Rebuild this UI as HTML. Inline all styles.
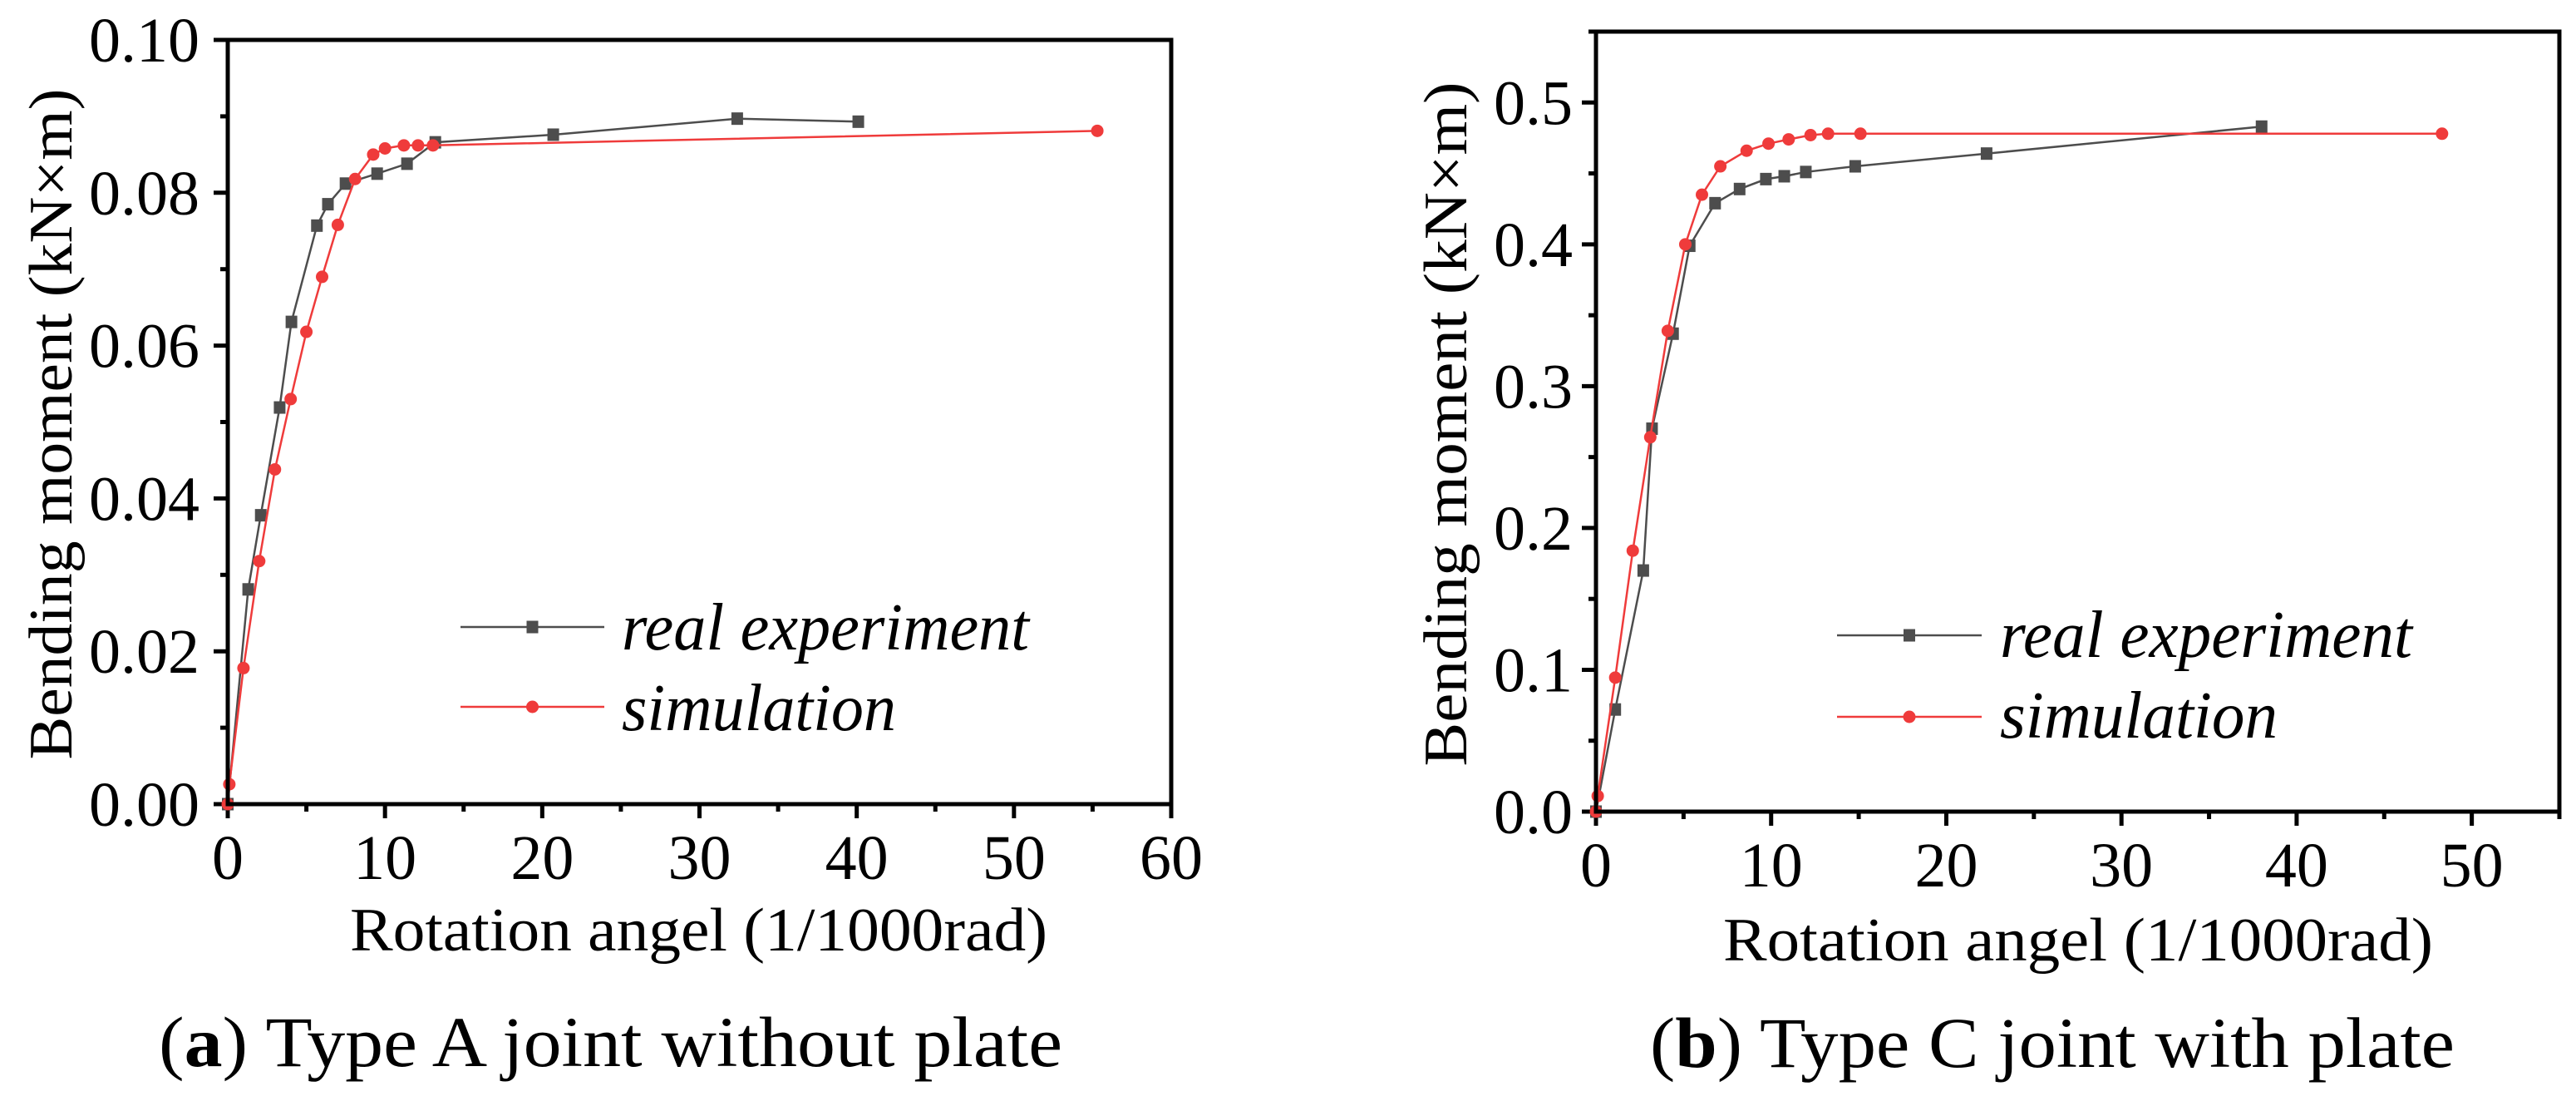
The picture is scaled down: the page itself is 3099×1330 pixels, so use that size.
<!DOCTYPE html>
<html><head><meta charset="utf-8">
<style>
html,body{margin:0;padding:0;background:#fff;}
svg{display:block;font-family:"Liberation Serif",serif;}
</style></head>
<body>
<svg id="fig" width="3099" height="1330" viewBox="0 0 3099 1330" xmlns="http://www.w3.org/2000/svg">
<g id="panelA"></g>
<g id="panelB"></g>
</svg>
<script>
// Panel A data
const aRealX = [0, 1.3, 2.1, 3.3, 4.05, 5.67, 6.37, 7.49, 9.5, 11.4, 13.2, 20.7, 32.4, 40.1];
const aRealY = [0, 0.0281, 0.0378, 0.0519, 0.0631, 0.0757, 0.0785, 0.0812, 0.0825, 0.0838, 0.0866, 0.0876, 0.0897, 0.0893];
const aSimX = [0, 0.1, 1.0, 2.0, 3.0, 4.0, 5.0, 6.0, 7.0, 8.1, 9.25, 10.0, 11.2, 12.1, 13.05, 55.3];
const aSimY = [0, 0.0026, 0.0178, 0.0318, 0.0438, 0.0530, 0.0618, 0.0690, 0.0758, 0.0818, 0.0850, 0.0858, 0.0862, 0.0862, 0.0862, 0.0881];
const aXTicks = ["0", "10", "20", "30", "40", "50", "60"];
const aYTicks = ["0.00", "0.02", "0.04", "0.06", "0.08", "0.10"];
// Panel B data
const bRealX = [0, 1.1, 2.7, 3.2, 4.4, 5.35, 6.8, 8.2, 9.7, 10.75, 11.98, 14.8, 22.3, 38.0];
const bRealY = [0, 0.072, 0.170, 0.270, 0.337, 0.399, 0.429, 0.439, 0.446, 0.448, 0.451, 0.455, 0.464, 0.483];
const bSimX = [0, 0.1, 1.1, 2.1, 3.1, 4.1, 5.1, 6.05, 7.1, 8.6, 9.85, 11.0, 12.25, 13.25, 15.1, 48.3];
const bSimY = [0, 0.011, 0.0945, 0.184, 0.264, 0.339, 0.400, 0.435, 0.455, 0.466, 0.471, 0.474, 0.477, 0.478, 0.478, 0.478];
const bXTicks = ["0", "10", "20", "30", "40", "50"];
const bYTicks = ["0.0", "0.1", "0.2", "0.3", "0.4", "0.5"];

const NS = "http://www.w3.org/2000/svg";
function mk(parent, tag, attrs, text) {
  const e = document.createElementNS(NS, tag);
  for (const k in attrs) e.setAttribute(k, attrs[k]);
  if (text !== undefined) e.textContent = text;
  parent.appendChild(e);
  return e;
}
const RED = "#ef3b3b", GRAY = "#4d4d4d";

function drawPanel(g, cfg) {
  const {L, R, T, B, xmax, ymax, xStep, yStep} = cfg;
  const sx = v => L + (v / xmax) * (R - L);
  const sy = v => B - (v / ymax) * (B - T);
  for (let i = 0; i < cfg.xTicks.length; i++) {
    const v = parseFloat(cfg.xTicks[i]);
    const x = sx(v);
    const t = mk(g, "line", {x1: x, x2: x, y1: B, y2: B + 17, stroke: "#000", "stroke-width": 5});
    
    
    const lb = mk(g, "text", {x: x, y: cfg.xLabBase, "font-size": 76, "text-anchor": "middle"}, cfg.xTicks[i]);
    
    
    const mv = v + xStep / 2;
    if (mv < xmax + 0.01) {
      const m = mk(g, "line", {x1: sx(mv), x2: sx(mv), y1: B, y2: B + 9, stroke: "#000", "stroke-width": 5});
      
      
    }
  }
  for (let i = 0; i < cfg.yTicks.length; i++) {
    const v = parseFloat(cfg.yTicks[i]);
    const y = sy(v);
    const t = mk(g, "line", {x1: L - 17, x2: L, y1: y, y2: y, stroke: "#000", "stroke-width": 5});
    
    
    const lb = mk(g, "text", {x: cfg.yLabRight, y: y + 26, "font-size": 76, "text-anchor": "end"}, cfg.yTicks[i]);
    
    
    const mv = v + yStep / 2;
    if (mv < ymax + 1e-9) {
      const m = mk(g, "line", {x1: L - 9, x2: L, y1: sy(mv), y2: sy(mv), stroke: "#000", "stroke-width": 5});
      
      
    }
  }
  function series(xs, ys, color, shape, name) {
    const pts = xs.map((x, i) => sx(x).toFixed(1) + "," + sy(ys[i]).toFixed(1)).join(" ");
    const pl = mk(g, "polyline", {points: pts, fill: "none", stroke: color, "stroke-width": 2.5});
    
    
    xs.forEach((x, i) => {
      let m;
      if (shape === "sq") m = mk(g, "rect", {x: sx(x) - 7, y: sy(ys[i]) - 7.5, width: 14, height: 15, fill: color});
      else m = mk(g, "circle", {cx: sx(x), cy: sy(ys[i]), r: 7.5, fill: color});
      
      
    });
  }
  series(cfg.realX, cfg.realY, GRAY, "sq", "real-experiment");
  series(cfg.simX, cfg.simY, RED, "ci", "simulation");
  const fr = mk(g, "rect", {x: L, y: T, width: R - L, height: B - T, fill: "none", stroke: "#000", "stroke-width": 5});
  
  
  const lg = cfg.leg;
  [[lg.y1, GRAY, "sq", "real experiment", lg.t1, lg.w1], [lg.y2, RED, "ci", "simulation", lg.t2, lg.w2]].forEach(([y, c, s, txt, tb, w]) => {
    const ln = mk(g, "line", {x1: lg.x1, x2: lg.x2, y1: y, y2: y, stroke: c, "stroke-width": 2.5});
    
    
    const mx = (lg.x1 + lg.x2) / 2;
    const mm = s === "sq" ? mk(g, "rect", {x: mx - 7, y: y - 7.5, width: 14, height: 15, fill: c}) : mk(g, "circle", {cx: mx, cy: y, r: 7.5, fill: c});
    
    
    const t = mk(g, "text", {x: lg.tx, y: tb, "font-size": 80, "font-style": "italic", textLength: w, lengthAdjust: "spacingAndGlyphs"}, txt);
    
    
  });
  const xt = mk(g, "text", {x: cfg.xt.x, y: cfg.xt.y, "font-size": 74, textLength: cfg.xt.w, lengthAdjust: "spacingAndGlyphs"}, "Rotation angel (1/1000rad)");
  
  
  const yt = mk(g, "text", {x: 0, y: 0, "font-size": 74, "text-anchor": "middle", textLength: cfg.yt.w, lengthAdjust: "spacingAndGlyphs", transform: `translate(${cfg.yt.x},${cfg.yt.y}) rotate(-90)`}, "Bending moment (kN×m)");
  
  
  const cap = mk(g, "text", {x: cfg.cap.x, y: cfg.cap.y, "font-size": 86, textLength: cfg.cap.w, lengthAdjust: "spacingAndGlyphs"});
  
  
  mk(cap, "tspan", {}, "(");
  mk(cap, "tspan", {"font-weight": "bold"}, cfg.cap.letter);
  mk(cap, "tspan", {}, ") " + cfg.cap.rest);
}

drawPanel(document.getElementById("panelA"), {
  L: 274, R: 1409, T: 48, B: 967, xmax: 60, ymax: 0.10, xStep: 10, yStep: 0.02,
  xTicks: aXTicks, yTicks: aYTicks, xLabBase: 1057, yLabRight: 240,
  realX: aRealX, realY: aRealY, simX: aSimX, simY: aSimY,
  leg: {x1: 554, x2: 727, y1: 754, y2: 850, tx: 748, t1: 781, t2: 878, w1: 490, w2: 330},
  xt: {x: 421, y: 1143, w: 839},
  yt: {x: 86, y: 510, w: 807},
  cap: {x: 191, y: 1282, w: 1087, letter: "a", rest: "Type A joint without plate"}
});
drawPanel(document.getElementById("panelB"), {
  L: 1920, R: 3079, T: 38, B: 976, xmax: 55, ymax: 0.55, xStep: 10, yStep: 0.1,
  xTicks: bXTicks, yTicks: bYTicks, xLabBase: 1066, yLabRight: 1892,
  realX: bRealX, realY: bRealY, simX: bSimX, simY: bSimY,
  leg: {x1: 2210, x2: 2384, y1: 764, y2: 862, tx: 2406, t1: 790, t2: 887, w1: 496, w2: 334},
  xt: {x: 2073, y: 1155, w: 854},
  yt: {x: 1764, y: 510, w: 823},
  cap: {x: 1985, y: 1283, w: 968, letter: "b", rest: "Type C joint with plate"}
});
</script>
</body></html>
